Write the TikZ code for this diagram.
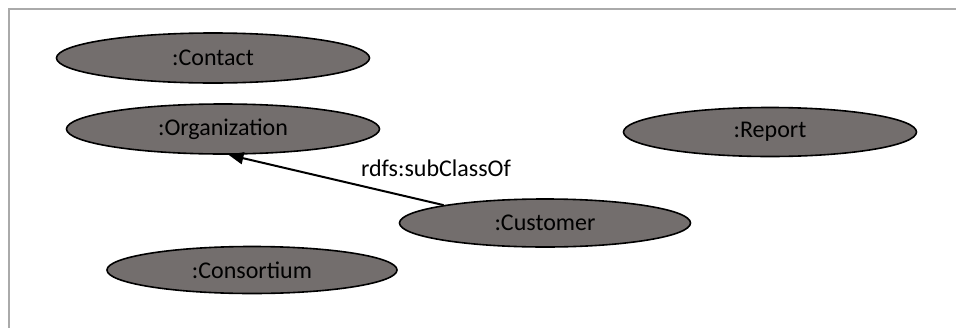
\documentclass[tikz,border=0pt]{standalone}
\usepackage{fontspec}
\setmainfont{Carlito}
\usetikzlibrary{shapes.geometric,arrows.meta}
\definecolor{ellfill}{RGB}{115,110,109}
\definecolor{framegray}{RGB}{170,170,170}
\begin{document}
\begin{tikzpicture}[x=1pt,y=-1pt,
  cls/.style={ellipse,draw=black,line width=1.6pt,fill=ellfill,inner sep=0pt,
    font=\fontsize{24}{28}\selectfont},
  lbl/.style={font=\fontsize{24}{28}\selectfont,inner sep=0pt},
  rel/.style={line width=2pt,-{Triangle[length=15pt,width=12pt]}}]
\useasboundingbox (0,0) rectangle (956,327);
\draw[framegray,line width=2pt] (9,330) -- (9,9) -- (960,9);
\node[cls,minimum width=313pt,minimum height=50pt] (contact) at (213,58) {:Contact};
\node[cls,minimum width=313pt,minimum height=50pt] (org) at (223,129) {:Organization};
\node[cls,minimum width=290pt,minimum height=47pt] (cons) at (252,270) {:Consortium};
\node[cls,minimum width=291pt,minimum height=48pt] (cust) at (545,223) {:Customer};
\node[cls,minimum width=293pt,minimum height=49pt] (report) at (770,132) {:Report};
\draw[rel] (cust.170.5) -- (org.-78);
\node[lbl] (sub) at (436,168) {rdfs:subClassOf};
\end{tikzpicture}
\end{document}
